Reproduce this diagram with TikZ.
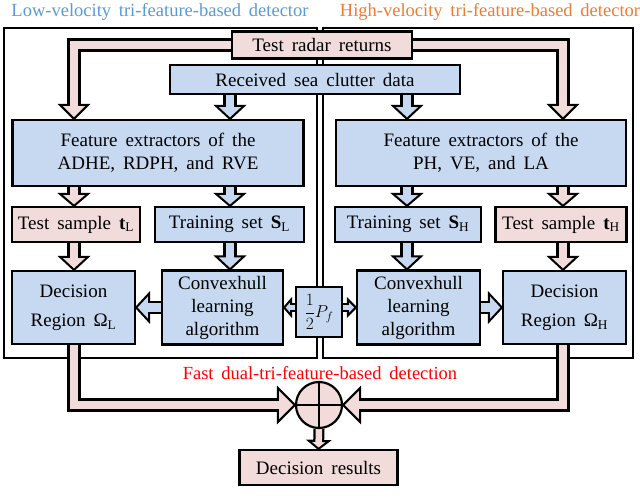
\documentclass[tikz,border=0pt]{standalone}
\usepackage{fontspec}
\setmainfont{Liberation Serif}
\usetikzlibrary{calc,backgrounds}
\pgfdeclarelayer{bg}
\pgfdeclarelayer{frames}
\pgfdeclarelayer{arrows}
\pgfsetlayers{bg,frames,arrows,main}
\definecolor{pinkf}{HTML}{F2DCDB}
\definecolor{bluef}{HTML}{C6D9F1}
\definecolor{tblue}{HTML}{5B9BD5}
\definecolor{torange}{HTML}{ED7D31}
\definecolor{tred}{HTML}{FF0000}
% #1 fill, #2 path up to penultimate point, #3 penultimate point, #4 tip,
% #5 outer shaft width, #6 inner shaft width, #7 head half width, #8 head length
\newcommand{\barrow}[8]{%
  \coordinate (hb) at ($(#4)!#8!(#3)$);
  \coordinate (hbi) at ($(hb)!2.5pt!(#4)$);
  \coordinate (ha) at ($(hb)!#7!90:(#4)$);
  \coordinate (hc) at ($(hb)!#7!-90:(#4)$);
  \draw[line width=#5] #2 -- (hb);
  \filldraw[fill=#1, draw=black, line width=2pt, miter limit=20] (#4) -- (ha) -- (hc) -- cycle;
  \draw[#1, line width=#6] #2 -- (hbi);
}
\newcommand{\wide}{\spaceskip=0.42em plus 0.1em\relax}
\tikzset{
  box/.style={draw=black, line width=2.2pt, inner sep=0pt, align=center,
    font=\fontsize{19}{23}\selectfont\wide},
  pbox/.style={box, fill=pinkf},
  bbox/.style={box, fill=bluef},
  frame/.style={draw=black, line width=2pt},
  title/.style={font=\fontsize{18.5}{20}\selectfont\wide, inner sep=0pt},
}
\begin{document}
\begin{tikzpicture}[x=1pt,y=-1pt, line join=miter]
\useasboundingbox (0,0) rectangle (640,496);
\begin{pgfonlayer}{bg}
\fill[white] (0,0) rectangle (640,496);
\end{pgfonlayer}

% titles
\node[title, text=tblue] (tl) at (160,12) {Low-velocity tri-feature-based detector};
\node[title, text=torange] (tr) at (490,12) {High-velocity tri-feature-based detector};

% boxes
\node[pbox, minimum width=180, minimum height=27] (radar) at (322,45) {Test radar returns};
\node[bbox, minimum width=290, minimum height=29] (clutter) at (315,79.5) {Received sea clutter data};
\node[bbox, minimum width=291, minimum height=66] (featL) at (158,153) {Feature extractors of the\\ADHE, RDPH, and RVE};
\node[bbox, minimum width=290, minimum height=66] (featR) at (481,153) {Feature extractors of the\\PH, VE, and LA};
\node[pbox, minimum width=128, minimum height=35] (tL) at (76,224.5) {Test sample \textbf{t}\textsubscript{L}};
\node[bbox, minimum width=149, minimum height=35] (SL) at (229.5,224.5) {Training set \textbf{S}\textsubscript{L}};
\node[bbox, minimum width=146, minimum height=35] (SH) at (408,224.5) {Training set \textbf{S}\textsubscript{H}};
\node[pbox, minimum width=131, minimum height=35] (tH) at (561,224.5) {Test sample \textbf{t}\textsubscript{H}};
\node[bbox, minimum width=123, minimum height=73, font=\fontsize{19}{29}\selectfont\wide] (DL) at (73.5,307.5) {Decision\\Region Ω\textsubscript{L}};
\node[bbox, minimum width=121, minimum height=74] (CL) at (222.5,307.5) {Convexhull\\learning\\algorithm};
\node[bbox, minimum width=46, minimum height=50, font=\fontsize{18}{22}\selectfont] (Pf) at (319,312) {$\displaystyle\frac{1}{2}P_f$};
\node[bbox, minimum width=123, minimum height=74] (CR) at (418.5,307.5) {Convexhull\\learning\\algorithm};
\node[bbox, minimum width=123, minimum height=73, font=\fontsize{19}{29}\selectfont\wide] (DH) at (564.5,307.5) {Decision\\Region Ω\textsubscript{H}};
\node[title, text=tred] (fast) at (320,373) {Fast dual-tri-feature-based detection};
\node[circle, draw=black, line width=2.2pt, fill=pinkf, minimum size=46, inner sep=0pt] (circ) at (319,405) {};
\draw[line width=2.2pt] (circ.north) -- (circ.south) (circ.west) -- (circ.east);
\node[pbox, minimum width=158, minimum height=35] (res) at (318.5,467.5) {Decision results};

% frames
\begin{pgfonlayer}{frames}
\draw[frame] (4,28) rectangle (317,358);
\draw[frame] (323,28) rectangle (633,358);
\end{pgfonlayer}

% connectors
\coordinate (pl) at (74,0);
\coordinate (pr) at (563,0);
\coordinate (bl) at (230,0);
\coordinate (br) at (407,0);
\begin{pgfonlayer}{arrows}
\barrow{pinkf}{(radar.west) -- (radar.west -| pl)}{radar.west -| pl}{featL.north -| pl}{13.5pt}{8.5pt}{14pt}{14pt}
\barrow{pinkf}{(radar.east) -- (radar.east -| pr)}{radar.east -| pr}{featR.north -| pr}{13.5pt}{8.5pt}{14pt}{14pt}
\barrow{bluef}{(clutter.south -| bl)}{clutter.south -| bl}{featL.north -| bl}{13.5pt}{8.5pt}{14pt}{13pt}
\barrow{bluef}{(clutter.south -| br)}{clutter.south -| br}{featR.north -| br}{13.5pt}{8.5pt}{14pt}{13pt}
\barrow{pinkf}{(featL.south -| pl)}{featL.south -| pl}{tL.north -| pl}{13.5pt}{8.5pt}{14pt}{12pt}
\barrow{bluef}{(featL.south -| bl)}{featL.south -| bl}{SL.north -| bl}{13.5pt}{8.5pt}{14pt}{12pt}
\barrow{bluef}{(featR.south -| br)}{featR.south -| br}{SH.north -| br}{13.5pt}{8.5pt}{14pt}{12pt}
\barrow{pinkf}{(featR.south -| pr)}{featR.south -| pr}{tH.north -| pr}{13.5pt}{8.5pt}{14pt}{12pt}
\barrow{pinkf}{(tL.south -| pl)}{tL.south -| pl}{DL.north -| pl}{13.5pt}{8.5pt}{14pt}{13pt}
\barrow{bluef}{(SL.south -| bl)}{SL.south -| bl}{CL.north -| bl}{13.5pt}{8.5pt}{14pt}{13pt}
\barrow{bluef}{(SH.south -| br)}{SH.south -| br}{CR.north -| br}{13.5pt}{8.5pt}{14pt}{13pt}
\barrow{pinkf}{(tH.south -| pr)}{tH.south -| pr}{DH.north -| pr}{13.5pt}{8.5pt}{14pt}{13pt}
\barrow{bluef}{(CL.west)}{CL.west}{DL.east |- CL.west}{13.5pt}{8.5pt}{14pt}{13pt}
\barrow{bluef}{(CR.east)}{CR.east}{DH.west |- CR.east}{13.5pt}{8.5pt}{14pt}{13pt}
\barrow{bluef}{(CL.east -| Pf.west)}{CL.east -| Pf.west}{CL.east}{9pt}{5pt}{8pt}{7pt}
\barrow{bluef}{(CR.west -| Pf.east)}{CR.west -| Pf.east}{CR.west}{9pt}{5pt}{8pt}{8pt}
\barrow{pinkf}{(DL.south -| pl) -- (pl |- circ.west)}{pl |- circ.west}{circ.west}{13.5pt}{8.5pt}{17pt}{17pt}
\barrow{pinkf}{(DH.south -| pr) -- (pr |- circ.east)}{pr |- circ.east}{circ.east}{13.5pt}{8.5pt}{17pt}{17pt}
\barrow{pinkf}{(circ.south)}{circ.south}{res.north}{11pt}{6.5pt}{10pt}{8pt}
\end{pgfonlayer}
\end{tikzpicture}
\end{document}
